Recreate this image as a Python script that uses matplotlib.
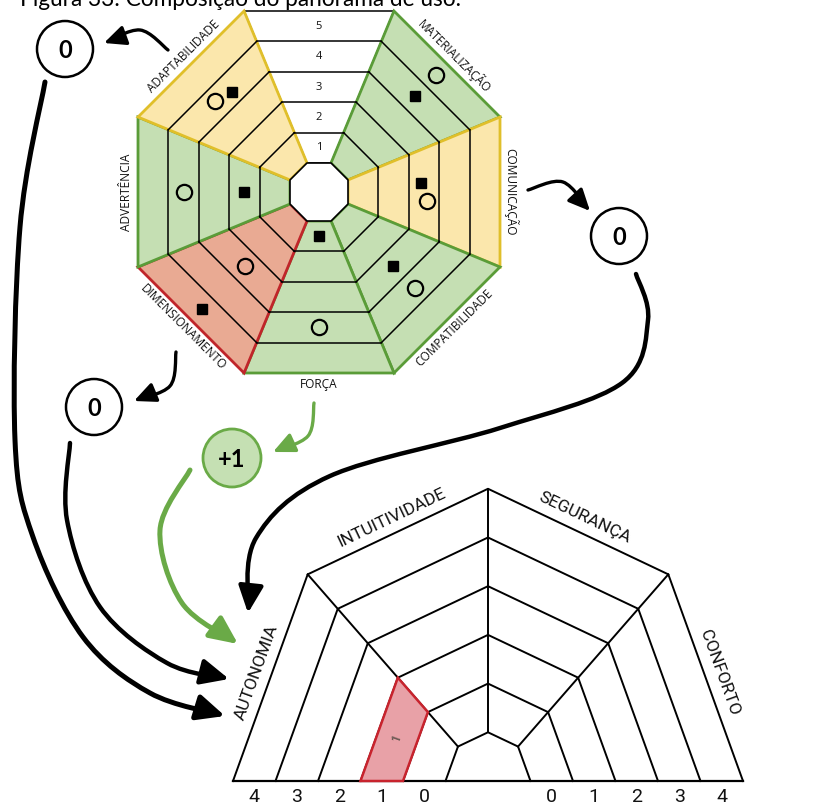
"""
Composição do panorama de uso: octógono de critérios -> resultados -> teia de uso
"""

import numpy as np
import matplotlib.pyplot as plt
from matplotlib.patches import Polygon, Circle, FancyArrowPatch, ArrowStyle
from matplotlib.path import Path

# critérios do octógono, em sentido horário a partir do topo (topo = escala)
criterios = ["", "MATERIALIZAÇÃO", "COMUNICAÇÃO", "COMPATIBILIDADE",
             "FORÇA", "DIMENSIONAMENTO", "ADVERTÊNCIA", "ADAPTABILIDADE"]
nivel_circulo = [None, 5, 3, 4, 4, 3, 4, 4]
nivel_quadrado = [None, 4, 3, 3, 1, 5, 2, 4]
niveis = [1, 2, 3, 4, 5]

# resultado parcial de alguns critérios
resultado_criterio = ["ADAPTABILIDADE", "COMUNICAÇÃO", "DIMENSIONAMENTO", "FORÇA"]
resultado_valor = ["0", "0", "0", "+1"]

# teia inferior
criterios_uso = ["AUTONOMIA", "INTUITIVIDADE", "SEGURANÇA", "CONFORTO"]
pontuacao_uso = [1, None, None, None]
ticks_esq = [4, 3, 2, 1, 0]
ticks_dir = [0, 1, 2, 3, 4]

legenda = "Figura 33: Composição do panorama de uso."

CORES = {
    "verde": ("#c5dfb3", "#5a9c38"),
    "amarelo": ("#fbe7ac", "#e0bf2a"),
    "vermelho": ("#e9aa93", "#c0252a"),
}
VERDE_SETA = "#6aaa47"

fig = plt.figure(figsize=(8.19, 8.09), dpi=100)
ax = fig.add_axes([0, 0, 1, 1])
ax.set_xlim(0, 819)
ax.set_ylim(809, 0)
ax.axis("off")

# ---------------- octógono ----------------
cx, cy = 319, 192
a_in, a_out = 29, 181
passo = (a_out - a_in) / len(niveis)
normais = [90, 45, 0, -45, -90, -135, 180, 135]
k225 = np.cos(np.radians(22.5))


def pt(ang, r):
    t = np.radians(ang)
    return (cx + r * np.cos(t), cy - r * np.sin(t))


def aresta(ang, a):
    r = a / k225
    return [pt(ang + 22.5, r), pt(ang - 22.5, r)]


def status(c, q):
    if c is None:
        return None
    if c > q:
        return "verde"
    if c == q:
        return "amarelo"
    return "vermelho"


est = [status(c, q) for c, q in zip(nivel_circulo, nivel_quadrado)]

# setor branco primeiro, coloridos por cima
for ordem in (True, False):
    for i, ang in enumerate(normais):
        if (est[i] is None) != ordem:
            continue
        fora = aresta(ang, a_out)
        dentro = aresta(ang, a_in)
        poly = fora + dentro[::-1]
        if est[i] is None:
            ax.add_patch(Polygon(poly, closed=True, fc="white", ec="black", lw=1.1, zorder=1))
        else:
            fc, ec = CORES[est[i]]
            ax.add_patch(Polygon(poly, closed=True, fc=fc, ec=ec, lw=2.0, zorder=2,
                                 joinstyle="miter"))

# linhas dos níveis
for ang in normais:
    for k in range(1, len(niveis)):
        (x1, y1), (x2, y2) = aresta(ang, a_in + k * passo)
        ax.plot([x1, x2], [y1, y2], color="black", lw=1.1, zorder=3)
ini = [aresta(ang, a_in)[0] for ang in normais]
ax.add_patch(Polygon(ini, closed=True, fc="white", ec="black", lw=1.2, zorder=4))

# números da escala
for k in niveis:
    x, y = pt(90, a_in + (k - 0.5) * passo)
    ax.text(x, y, str(k), ha="center", va="center", fontsize=8,
            family="Open Sans", color="#111111", zorder=5)

# marcadores
for i, ang in enumerate(normais):
    c, q = nivel_circulo[i], nivel_quadrado[i]
    if c is None:
        continue
    t = np.radians(ang)
    u = np.array([np.cos(t), -np.sin(t)])
    v = np.array([np.sin(t), np.cos(t)])
    if v[1] < 0 or (v[1] == 0 and v[0] < 0):
        v = -v
    pc = np.array([cx, cy]) + u * (a_in + (c - 0.5) * passo)
    pq = np.array([cx, cy]) + u * (a_in + (q - 0.5) * passo)
    if c == q:
        pc = pc + v * 9 + u * 3
        pq = pq - v * 9 - u * 3
    ax.plot(pc[0], pc[1], "o", ms=11, mfc="none", mec="black", mew=1.6, zorder=6)
    ax.plot(pq[0], pq[1], "s", ms=7.5, color="black", zorder=6)

# rótulos dos critérios
for i, ang in enumerate(normais):
    if not criterios[i]:
        continue
    x, y = pt(ang, a_out + 11)
    rot = ang - 90 if ang >= 0 else ang + 90
    ax.text(x, y, criterios[i], rotation=rot, ha="center", va="center",
            fontsize=8.6, family="Open Sans", color="#111111", zorder=5,
            rotation_mode="anchor")

# ---------------- resultados ----------------
pos_res = {"ADAPTABILIDADE": (65, 49), "COMUNICAÇÃO": (619, 236),
           "DIMENSIONAMENTO": (94, 407), "FORÇA": (232, 458)}
for nome, val in zip(resultado_criterio, resultado_valor):
    x, y = pos_res[nome]
    if val.startswith("+"):
        ax.add_patch(Circle((x, y), 29, fc="#c5e0b3", ec=VERDE_SETA, lw=2.0, zorder=5))
    else:
        ax.add_patch(Circle((x, y), 28, fc="white", ec="black", lw=1.8, zorder=5))
    ax.text(x, y + 1, val, ha="center", va="center", fontsize=17, fontweight="bold",
            family="Lato", color="black", zorder=6)


# ---------------- setas ----------------
def curva(pts):
    pts = np.array(pts, float)
    verts = [pts[0]]
    codes = [Path.MOVETO]
    n = len(pts)
    for i in range(n - 1):
        p0 = pts[i - 1] if i > 0 else pts[i]
        p1, p2 = pts[i], pts[i + 1]
        p3 = pts[i + 2] if i + 2 < n else pts[i + 1]
        verts += [p1 + (p2 - p0) / 6, p2 - (p3 - p1) / 6, p2]
        codes += [Path.CURVE4] * 3
    return Path(verts, codes)


setas = [
    ([(168, 50), (140, 30), (104, 43)], "black", 2.4, 1.0),
    ([(528, 190), (563, 182), (590, 211)], "black", 2.4, 1.0),
    ([(176, 352), (170, 386), (134, 401)], "black", 2.4, 1.0),
    ([(314, 403), (308, 436), (273, 452)], VERDE_SETA, 2.4, 1.0),
    ([(636, 274), (648, 320), (622, 383), (500, 428), (330, 476),
      (256, 538), (248, 613)], "black", 3.2, 1.25),
    ([(190, 470), (160, 530), (182, 603), (238, 644)], VERDE_SETA, 3.6, 1.3),
    ([(70, 443), (67, 520), (100, 607), (167, 663), (229, 679)], "black", 3.2, 1.3),
    ([(45, 82), (20, 227), (15, 440), (33, 537), (83, 637), (150, 693),
      (225, 716)], "black", 3.6, 1.3),
]
for pts, cor, lw, esc in setas:
    estilo = ArrowStyle("-|>", head_length=1.3 * esc, head_width=0.6 * esc)
    ax.add_patch(FancyArrowPatch(path=curva(pts), arrowstyle=estilo, mutation_scale=10,
                                 color=cor, lw=lw, zorder=7, capstyle="round"))

# ---------------- teia inferior ----------------
bx, by = 488, 781
R, sy = 255, 1.146
angs = [180, 135, 90, 45, 0]
n_aneis = 6


def wpt(ang, s):
    t = np.radians(ang)
    return (bx + s * R * np.cos(t), by - s * R * sy * np.sin(t))


# célula pontuada
for i, p in enumerate(pontuacao_uso):
    if p is None:
        continue
    a1, a2 = angs[i], angs[i + 1]
    s1, s2 = (p + 1) / n_aneis, (p + 2) / n_aneis
    cel = [wpt(a1, s1), wpt(a1, s2), wpt(a2, s2), wpt(a2, s1)]
    ax.add_patch(Polygon(cel, closed=True, fc="#e8a1a7", ec="#c8232d", lw=1.8, zorder=3))
    mx = np.mean([c[0] for c in cel])
    my = np.mean([c[1] for c in cel])
    ax.text(mx, my, str(p), rotation=70, ha="center", va="center", fontsize=8.5,
            color="#6e5a55", family="Roboto", fontweight="bold", zorder=4)

for k in range(1, n_aneis + 1):
    xs, ys = zip(*[wpt(a, k / n_aneis) for a in angs])
    ax.plot(xs, ys, color="black", lw=1.4, zorder=2)
for a in angs[1:-1]:
    (x1, y1), (x2, y2) = wpt(a, 1 / n_aneis), wpt(a, 1)
    ax.plot([x1, x2], [y1, y2], color="black", lw=1.4, zorder=2)
(x1, y1), (x2, y2) = wpt(180, 1), wpt(0, 1)
ax.plot([x1, x2], [y1, y2], color="black", lw=1.6, zorder=2)

# rótulos da teia
for i, nome in enumerate(criterios_uso):
    p1 = np.array(wpt(angs[i], 1))
    p2 = np.array(wpt(angs[i + 1], 1))
    d = p2 - p1
    d = d / np.hypot(*d)
    nrm = np.array([d[1], -d[0]])
    m = (p1 + p2) / 2 + nrm * 15
    rot = np.degrees(np.arctan2(-d[1], d[0]))
    if rot > 90:
        rot -= 180
    elif rot < -90:
        rot += 180
    ax.text(m[0], m[1], nome, rotation=rot, ha="center", va="center", fontsize=12.5,
            family="Roboto", color="#111111", zorder=5, rotation_mode="anchor")

for lado, ticks in ((-1, ticks_esq), (1, ticks_dir)):
    for t in ticks:
        x = bx + lado * R * (t + 1.5) / n_aneis
        ax.text(x, 797, str(t), ha="center", va="center", fontsize=14,
                family="Roboto", color="#111111")

ax.text(20, 6, legenda, ha="left", va="baseline", fontsize=16.3, family="Lato",
        color="black")

plt.savefig("out.png", dpi=100)
